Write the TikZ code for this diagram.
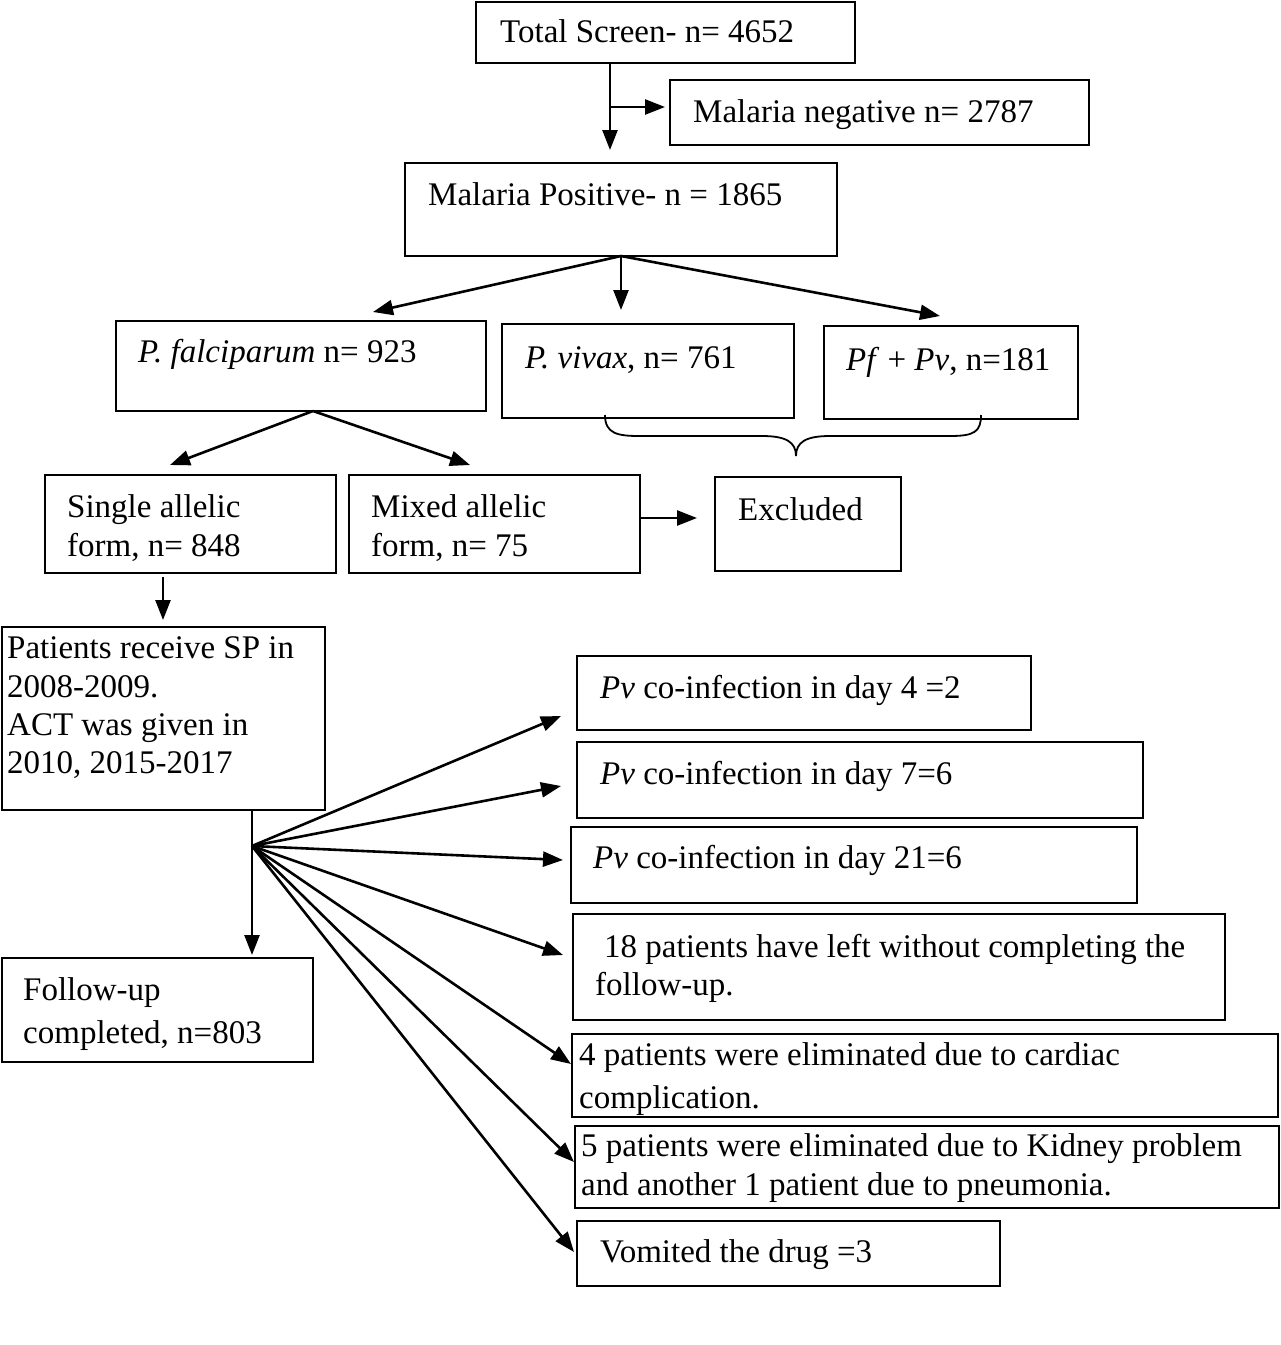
\documentclass[tikz,border=0pt]{standalone}
\usepackage{fontspec}
\setmainfont{Liberation Serif}
\usetikzlibrary{arrows.meta,calc}
\begin{document}
\begin{tikzpicture}[x=1pt,y=-1pt,
  box/.style={draw, line width=2.2pt, inner sep=0pt, outer sep=0pt, anchor=north west},
  txt/.style={anchor=base west, inner sep=0pt, font=\fontsize{33}{38}\selectfont},
  arr/.style={line width=2.6pt, -{Triangle[length=20pt,width=15pt]}},
  ln/.style={line width=2.6pt}]
\useasboundingbox (0,0) rectangle (1281,1345);
\fill[white] (0,0) rectangle (1281,1345);
% boxes
\node[box, minimum width=379pt, minimum height=61pt] (ts) at (476,2) {};
\node[box, minimum width=419pt, minimum height=65pt] (neg) at (670,80) {};
\node[box, minimum width=432pt, minimum height=93pt] (pos) at (405,163) {};
\node[box, minimum width=370pt, minimum height=90pt] (pf) at (116,321) {};
\node[box, minimum width=292pt, minimum height=94pt] (pv) at (502,324) {};
\node[box, minimum width=254pt, minimum height=93pt] (pfpv) at (824,326) {};
\node[box, minimum width=291pt, minimum height=98pt] (single) at (45,475) {};
\node[box, minimum width=291pt, minimum height=98pt] (mixed) at (349,475) {};
\node[box, minimum width=186pt, minimum height=94pt] (excl) at (715,477) {};
\node[box, minimum width=323pt, minimum height=183pt] (sp) at (2,627) {};
\node[box, minimum width=311pt, minimum height=104pt] (fu) at (2,958) {};
\node[box, minimum width=454pt, minimum height=74pt] (d4) at (577,656) {};
\node[box, minimum width=566pt, minimum height=76pt] (d7) at (577,742) {};
\node[box, minimum width=566pt, minimum height=76pt] (d21) at (571,827) {};
\node[box, minimum width=652pt, minimum height=106pt] (lft) at (573,914) {};
\node[box, minimum width=706pt, minimum height=83pt] (card) at (572,1034) {};
\node[box, minimum width=704pt, minimum height=82pt] (kid) at (575,1126) {};
\node[box, minimum width=423pt, minimum height=65pt] (vom) at (577,1221) {};
% texts
\node[txt] (tts) at (500,42) {Total Screen- n= 4652};
\node[txt] (tneg) at (693,122) {Malaria negative n= 2787};
\node[txt] (tpos) at (428,205) {Malaria Positive- n = 1865};
\node[txt] (tpf) at (138,362) {\textit{P. falciparum} n= 923};
\node[txt] (tpv) at (525,368) {\textit{P. vivax}, n= 761};
\node[txt] (tpfpv) at (846,370) {\textit{Pf} + \textit{Pv}, n=181};
\node[txt] (ts1) at (67,517) {Single allelic};
\node[txt] (ts2) at (67,556) {form, n= 848};
\node[txt] (tm1) at (371,517) {Mixed allelic};
\node[txt] (tm2) at (371,556) {form, n= 75};
\node[txt] (tex) at (738,520) {Excluded};
\node[txt] (tsp1) at (7,658) {Patients receive SP in};
\node[txt] (tsp2) at (7,697) {2008-2009.};
\node[txt] (tsp3) at (7,735) {ACT was given in};
\node[txt] (tsp4) at (7,773) {2010, 2015-2017};
\node[txt] (tfu1) at (23,1000) {Follow-up};
\node[txt] (tfu2) at (23,1043) {completed, n=803};
\node[txt] (td4) at (600,698) {\textit{Pv} co-infection in day 4 =2};
\node[txt] (td7) at (600,784) {\textit{Pv} co-infection in day 7=6};
\node[txt] (td21) at (593,868) {\textit{Pv} co-infection in day 21=6};
\node[txt] (tl1) at (604,957) {18 patients have left without completing the};
\node[txt] (tl2) at (595,995) {follow-up.};
\node[txt] (tc1) at (579,1065) {4 patients were eliminated due to cardiac};
\node[txt] (tc2) at (579,1108) {complication.};
\node[txt] (tk1) at (581,1156) {5 patients were eliminated due to Kidney problem};
\node[txt] (tk2) at (581,1195) {and another 1 patient due to pneumonia.};
\node[txt] (tv) at (600,1262) {Vomited the drug =3};
% coordinates
\coordinate (j1) at (610,107);
\coordinate (a1) at (373,312);
\coordinate (a3) at (940,316);
\coordinate (fk) at (313,411);
\coordinate (b1) at (170,465);
\coordinate (b2) at (470,465);
\coordinate (c1) at (163,577);
\coordinate (fan) at (252,846);
\coordinate (f1) at (561,716);
\coordinate (f2) at (561,786);
\coordinate (f3) at (563,860);
\coordinate (f4) at (563,955);
\coordinate (f5) at (571,1064);
\coordinate (f6) at (574,1162);
\coordinate (f7) at (574,1252);
% connectors
\draw[arr, shorten >=13pt] (ts.south -| j1) -- (pos.north -| j1);
\draw[arr, shorten >=5pt] (j1) -- (neg.west |- j1);
\draw[arr] (pos.south) -- (a1);
\draw[arr, shorten >=14pt] (pos.south) -- (pv.north -| pos.south);
\draw[arr] (pos.south) -- (a3);
\draw[arr] (fk) -- (b1);
\draw[arr] (fk) -- (b2);
\draw[arr, shorten >=18pt] (mixed.east |- 0,518) -- (excl.west |- 0,518);
\draw[arr, shorten >=7pt] (c1) -- (sp.north -| c1);
\draw[ln] (sp.south -| fan) -- (fan);
\draw[arr, shorten >=3pt] (fan) -- (fu.north -| fan);
\foreach \t in {f1,f2,f3,f4,f5,f6,f7} \draw[arr] (fan) -- (\t);
% brace
\draw[line width=1.8pt] (605,415) .. controls (605,434) and (618,436) .. (640,436) -- (762,436)
  .. controls (786,436) and (796,442) .. (796,456)
  .. controls (796,442) and (806,436) .. (830,436) -- (950,436)
  .. controls (974,436) and (981,432) .. (981,415);
\end{tikzpicture}
\end{document}
